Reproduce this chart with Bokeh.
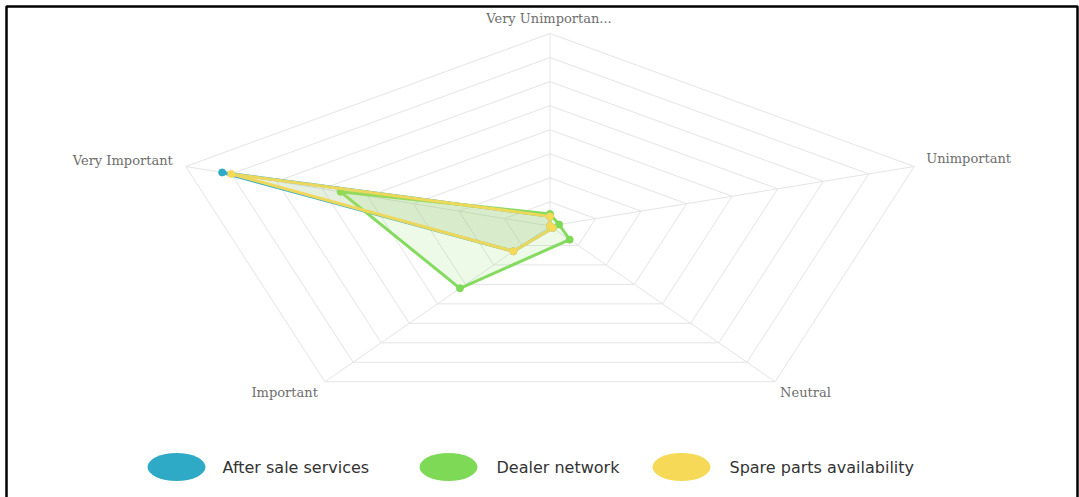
import numpy as np
from bokeh.plotting import figure
from bokeh.models import Range1d, BoxAnnotation
from bokeh.core.properties import value
from bokeh.embed import file_html
from bokeh.resources import INLINE

# Radar axes, clockwise from the top
categories = ["Very Unimportan...", "Unimportant", "Neutral", "Important", "Very Important"]

# Responses per rating for each factor
after_sale_services = [4, 0, 1, 13, 72]
dealer_network = [5, 2, 7, 32, 46]
spare_parts_availability = [4, 0, 1, 13, 70]

series_names = ["After sale services", "Dealer network", "Spare parts availability"]
series_values = [after_sale_services, dealer_network, spare_parts_availability]
series_colors = ["#2eaac6", "#7ed957", "#f5d957"]

scale_max = 80
scale_step = 10

W, H = 1079, 497
CX, CY = 549.5, 225.5      # radar centre (pixels)
RX, RY = 383.0, 192.5      # full-scale radius along x and y (pixels)

n = len(categories)
theta = np.arange(n) * 2 * np.pi / n


def to_xy(vals):
    r = np.asarray(vals, dtype=float) / scale_max
    return CX + r * RX * np.sin(theta), CY - r * RY * np.cos(theta)


p = figure(width=W, height=H, output_backend="svg", toolbar_location=None,
           x_range=Range1d(0, W), y_range=Range1d(H, 0),
           min_border=0, min_border_left=0, min_border_right=0,
           min_border_top=0, min_border_bottom=0)
p.axis.visible = False
p.grid.visible = False
p.outline_line_color = None
p.background_fill_color = "white"
p.border_fill_color = "white"

# page frame
p.add_layout(BoxAnnotation(left=6, right=1077, top=6, bottom=H + 20,
                           fill_alpha=0, line_color="black", line_alpha=1.0,
                           line_width=2.5))

# grid rings and spokes
ring_xs, ring_ys = [], []
for level in range(scale_step, scale_max + 1, scale_step):
    gx, gy = to_xy([level] * n)
    ring_xs.append(list(gx) + [gx[0]])
    ring_ys.append(list(gy) + [gy[0]])
p.multi_line(ring_xs, ring_ys, line_color="#e4e4e4", line_width=1)
ox, oy = to_xy([scale_max] * n)
p.multi_line([[CX, x] for x in ox], [[CY, y] for y in oy], line_color="#e4e4e4", line_width=1)

# axis labels
lab_align = ["center", "left", "left", "right", "right"]
lab_dx = [-1, 12, 5, -7, -13]
lab_dy = [-15, -8, 11, 11, -6]
for i, cat in enumerate(categories):
    p.text(x=[ox[i]], y=[oy[i]], text=[cat], x_offset=lab_dx[i], y_offset=lab_dy[i],
           text_align=lab_align[i], text_baseline="middle",
           text_font=value("DejaVu Serif"), text_font_size="13px", text_color="#6e6e6e")

# data series
for vals, color in zip(series_values, series_colors):
    sx, sy = to_xy(vals)
    p.patch(list(sx) + [sx[0]], list(sy) + [sy[0]], fill_color=color, fill_alpha=0.14,
            line_color=color, line_width=3, line_alpha=0.95)
    p.scatter(sx, sy, size=7, fill_color=color, line_color=color, line_width=1)

# legend
leg_ex = [176, 448, 681]
leg_tx = [222, 496, 729]
leg_y = 466.5
for name, color, ex, tx in zip(series_names, series_colors, leg_ex, leg_tx):
    p.ellipse(x=[ex], y=[leg_y], width=58, height=28, width_units="screen",
              height_units="screen", fill_color=color, line_color=None)
    p.text(x=[tx], y=[leg_y], text=[name], text_align="left", text_baseline="middle",
           text_font=value("DejaVu Sans"), text_font_size="16px", text_color="#333333")

open("out.html", "w").write(file_html(p, INLINE))
